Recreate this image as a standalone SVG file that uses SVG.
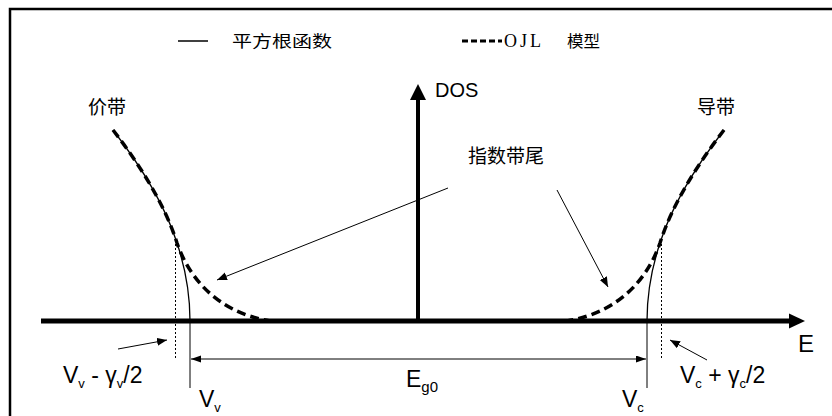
<svg xmlns="http://www.w3.org/2000/svg" width="832" height="416" viewBox="0 0 832 416">
<style>
.cjk{font-family:"Noto Sans CJK SC","Liberation Sans",sans-serif;fill:#000}
.lat{font-family:"Liberation Sans","Noto Sans CJK SC",sans-serif;fill:#000}
.ser{font-family:"Liberation Serif",serif;fill:#000}
.thin{fill:none;stroke:#000;stroke-width:1}
.dash{fill:none;stroke:#000;stroke-width:3.5;stroke-dasharray:9 5}
.dot{fill:none;stroke:#000;stroke-width:1;stroke-dasharray:2 2}
.sqrt{fill:none;stroke:#000;stroke-width:1.3}
</style>
<defs>
<marker id="ah" markerUnits="userSpaceOnUse" markerWidth="12" markerHeight="10" refX="10" refY="4" orient="auto">
<path d="M0,0 L10,4 L0,8 z" fill="#000"/>
</marker>
<marker id="ah2" markerUnits="userSpaceOnUse" markerWidth="12" markerHeight="10" refX="10" refY="3.5" orient="auto-start-reverse">
<path d="M0,0 L10,3.5 L0,7 z" fill="#000"/>
</marker>
<g id="half">
<path class="sqrt" d="M113,130 C140,165 165,205 177,243 Q190,282 190,321"/>
<path class="dash" d="M113,130 C140,165 165,205 177,243 C188,275 215,312 270,321"/>
<line class="dot" x1="175.5" y1="240" x2="175.5" y2="358"/>
<line class="thin" x1="190" y1="321" x2="190" y2="388"/>
</g>
</defs>
<rect x="10" y="9" width="840" height="430" fill="none" stroke="#000" stroke-width="2.5"/>

<g id="legend">
<line x1="178" y1="41" x2="208" y2="41" stroke="#000" stroke-width="1.5"/>
<text class="cjk" x="232" y="47" font-size="16" textLength="100" lengthAdjust="spacingAndGlyphs">平方根函数</text>
<line x1="462" y1="41" x2="502" y2="41" stroke="#000" stroke-width="3" stroke-dasharray="6 3"/>
<text class="ser" x="504" y="47" font-size="18" letter-spacing="3">OJL</text>
<text class="cjk" x="567" y="47" font-size="16" textLength="33" lengthAdjust="spacingAndGlyphs">模型</text>
</g>

<g id="axes">
<line x1="41" y1="321" x2="790" y2="321" stroke="#000" stroke-width="5"/>
<polygon points="805,321 789,313.5 789,328.5" fill="#000"/>
<line x1="418" y1="321" x2="418" y2="98" stroke="#000" stroke-width="4"/>
<polygon points="418,84 410,100 426,100" fill="#000"/>
<text class="lat" x="435" y="97" font-size="20">DOS</text>
<text class="lat" x="798" y="352" font-size="24">E</text>
</g>

<g id="valence-band">
<use href="#half"/>
<text class="cjk" x="88" y="114" font-size="19">价带</text>
</g>
<g id="conduction-band">
<use href="#half" transform="translate(837,0) scale(-1,1)"/>
<text class="cjk" x="697" y="114" font-size="19">导带</text>
</g>

<g id="tail-label">
<text class="cjk" x="468" y="163" font-size="19">指数带尾</text>
</g>

<g id="connectors">
<line class="thin" x1="448" y1="188" x2="217" y2="280" marker-end="url(#ah)"/>
<line class="thin" x1="557" y1="190" x2="608" y2="287" marker-end="url(#ah)"/>
<line class="thin" x1="118" y1="349" x2="167" y2="340" marker-end="url(#ah)"/>
<line class="thin" x1="707" y1="360" x2="670" y2="340" marker-end="url(#ah)"/>
<line class="thin" x1="191" y1="359" x2="646" y2="359" marker-start="url(#ah2)" marker-end="url(#ah2)"/>
</g>

<g id="labels">
<text class="lat" x="63" y="383" font-size="23">V<tspan font-size="13" dy="5">v</tspan><tspan dy="-5"> - γ</tspan><tspan font-size="13" dy="5">v</tspan><tspan dy="-5">/2</tspan></text>
<text class="lat" x="199" y="407" font-size="23">V<tspan font-size="13" dy="5">v</tspan></text>
<text class="lat" x="406" y="387" font-size="23">E<tspan font-size="15" dy="5">g0</tspan></text>
<text class="lat" x="622" y="407" font-size="23">V<tspan font-size="13" dy="5">c</tspan></text>
<text class="lat" x="680" y="383" font-size="23">V<tspan font-size="13" dy="5">c</tspan><tspan dy="-5"> + γ</tspan><tspan font-size="13" dy="5">c</tspan><tspan dy="-5">/2</tspan></text>
</g>
</svg>
